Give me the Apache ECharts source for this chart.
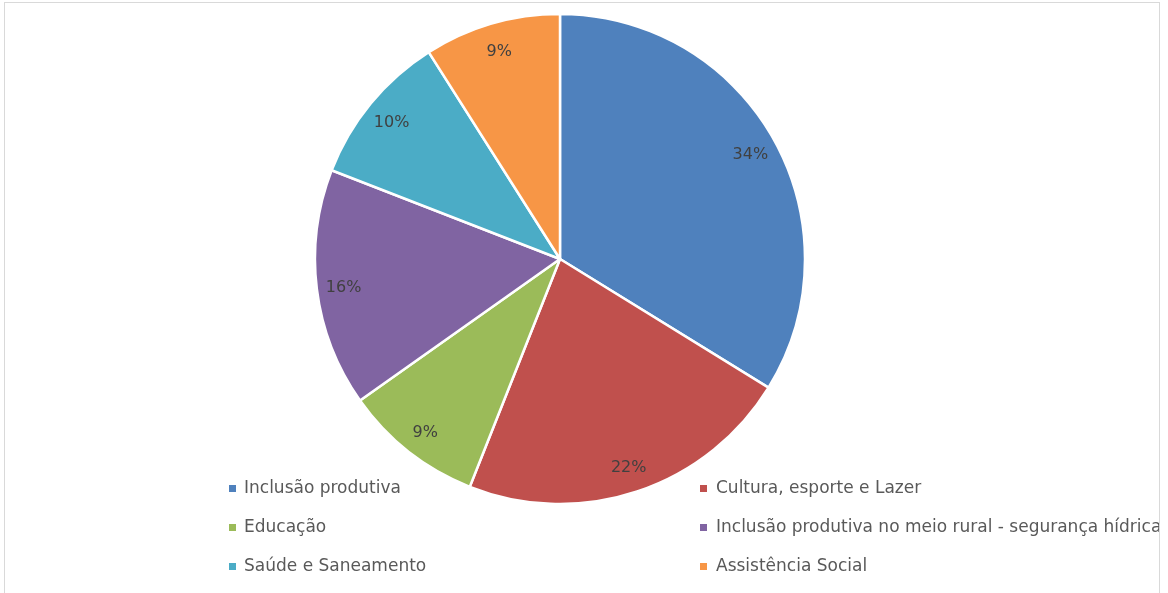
<!DOCTYPE html>
<html><head><meta charset="utf-8">
<script src="https://cdn.jsdelivr.net/npm/echarts@6/dist/echarts.min.js"></script>
<style>
html,body{margin:0;padding:0;background:#fff;}
#chart{position:absolute;left:0;top:0;width:1161px;height:593px;overflow:hidden;}
#frame{position:absolute;left:4px;top:2px;width:1156px;height:600px;border:1.5px solid #d9d9d9;box-sizing:border-box;pointer-events:none;}
</style></head>
<body>
<div id="chart"></div><div id="frame"></div>
<script>
const categories = ['Inclusão produtiva','Cultura, esporte e Lazer','Educação','Inclusão produtiva no meio rural - segurança hídrica','Saúde e Saneamento','Assistência Social'];
const values = [33.8, 22.2, 9.2, 15.7, 10.1, 9.0];
const labels = ['34%','22%','9%','16%','10%','9%'];
const colors = ['#4F81BD','#C0504D','#9BBB59','#8064A2','#4BACC6','#F79646'];
const legendLeft = ['Inclusão produtiva','Educação','Saúde e Saneamento'];
const legendRight = ['Cultura, esporte e Lazer','Inclusão produtiva no meio rural - segurança hídrica','Assistência Social'];

const font = 'DejaVu Sans';
const data = categories.map((c,i)=>({name:c, value:values[i], itemStyle:{color:colors[i]}}));
const labelData = categories.map((c,i)=>({name:c, value:values[i], label:{formatter:labels[i]}}));
function legendOf(left, items, pad){
  return {
    orient:'vertical', left:left, top:475, height:200, data:items,
    icon:'rect', itemWidth:9, itemHeight:9, itemGap:22, selectedMode:false,
    textStyle:{color:'#595959', fontSize:17, lineHeight:17, fontFamily:font, padding:[0,0,0,pad]}
  };
}
const chart = echarts.init(document.getElementById('chart'), null, {renderer:'canvas'});
chart.setOption({
  animation:false,
  color:colors,
  legend:[ legendOf(222, legendLeft, 2), legendOf(693, legendRight, 3) ],
  series:[
    {
      type:'pie', center:[560,259], radius:[0,245], startAngle:90, clockwise:true,
      itemStyle:{borderColor:'#fff', borderWidth:2.5},
      label:{show:false}, labelLine:{show:false},
      data:data, z:1, silent:true
    },
    {
      type:'pie', center:[560,261], radius:[190,240], startAngle:90, clockwise:true,
      itemStyle:{color:'rgba(0,0,0,0)', borderWidth:0},
      label:{show:true, position:'inside', color:'#404040', fontSize:16, fontFamily:font},
      labelLine:{show:false}, emphasis:{disabled:true},
      data:labelData, z:3, silent:true, legendHoverLink:false
    }
  ]
});
</script>
</body></html>
